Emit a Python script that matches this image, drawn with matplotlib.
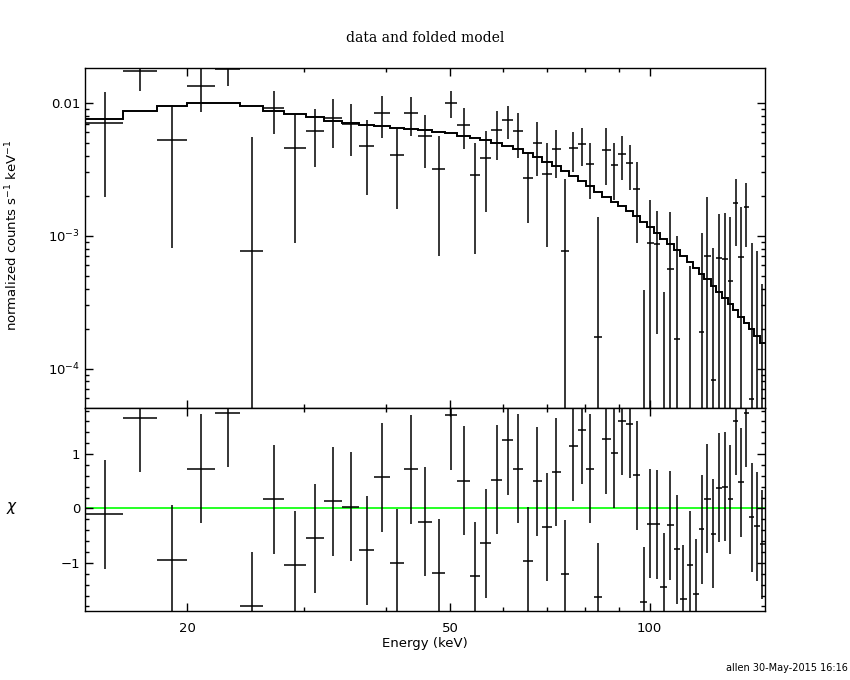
import numpy as np
import matplotlib
matplotlib.use("Agg")
import matplotlib.pyplot as plt
from matplotlib.ticker import FixedLocator, FixedFormatter, NullFormatter, MultipleLocator

# channel bin edges (keV)
edges = [14.02, 16.00, 17.99, 20.00, 22.05, 24.06, 26.07, 28.04, 30.20, 32.16,
         34.32, 36.37, 38.37, 40.46, 42.59, 44.72, 46.95, 49.01, 51.23, 53.47,
         55.50, 57.67, 59.93, 62.18, 64.39, 66.53, 68.80, 71.09, 73.35, 75.58,
         77.82, 80.19, 82.46, 84.79, 87.30, 89.64, 92.08, 94.45, 96.78, 99.06,
         101.5, 103.8, 106.3, 108.7, 111.2, 113.7, 116.1, 118.6, 121.0, 123.6,
         126.1, 128.8, 131.2, 133.6, 136.2, 138.7, 141.4, 144.0, 146.6, 149.4]

# normalized counts s^-1 keV^-1
counts = [7.06e-3, 1.753e-2, 5.26e-3, 1.344e-2, 1.805e-2, 7.64e-4, 9.10e-3, 4.57e-3, 6.15e-3, 7.65e-3,
          6.94e-3, 4.74e-3, 8.40e-3, 4.05e-3, 8.40e-3, 5.69e-3, 3.18e-3, 1.0e-2, 6.82e-3, 2.86e-3,
          3.85e-3, 6.25e-3, 7.44e-3, 6.15e-3, 2.72e-3, 5.02e-3, 2.93e-3, 4.50e-3, 7.64e-4, 4.57e-3,
          4.91e-3, 3.46e-3, 1.72e-4, 4.44e-3, 3.42e-3, 4.12e-3, 3.52e-3, 2.24e-3, -8.6e-4, 8.77e-4,
          8.63e-4, -8.8e-4, 5.61e-4, 1.68e-4, -9.7e-4, -5.6e-4, -9.5e-4, 1.87e-4, 7.0e-4, 8.16e-5,
          6.76e-4, 6.68e-4, 4.53e-4, 1.759e-3, 6.88e-4, 1.658e-3, 5.86e-5, -1.1e-4, -3.6e-4]

count_err = [5.1e-3, 5.3e-3, 4.45e-3, 4.95e-3, 4.7e-3, 4.80e-3, 3.28e-3, 3.69e-3, 2.86e-3, 3.07e-3,
             2.94e-3, 2.70e-3, 2.95e-3, 2.46e-3, 2.76e-3, 2.47e-3, 2.48e-3, 2.32e-3, 2.35e-3, 2.13e-3,
             2.33e-3, 2.50e-3, 2.10e-3, 2.30e-3, 1.48e-3, 2.21e-3, 2.11e-3, 1.79e-3, 1.92e-3, 1.53e-3,
             1.57e-3, 1.56e-3, 1.22e-3, 2.04e-3, 1.57e-3, 1.51e-3, 1.32e-3, 1.36e-3, 1.25e-3, 9.9e-4,
             6.8e-4, 1.26e-3, 9.5e-4, 8.3e-4, 1.0e-3, 1.15e-3, 9.7e-4, 8.6e-4, 1.26e-3, 7.3e-4,
             7.85e-4, 8.2e-4, 9.3e-4, 9.2e-4, 9.6e-4, 8.4e-4, 8.24e-4, 8.8e-4, 7.9e-4]

# folded model
model = [7.57e-3, 8.70e-3, 9.43e-3, 9.93e-3, 1.0e-2, 9.43e-3, 8.75e-3, 8.26e-3, 7.79e-3, 7.35e-3,
         7.02e-3, 6.86e-3, 6.66e-3, 6.51e-3, 6.43e-3, 6.29e-3, 6.10e-3, 5.94e-3, 5.69e-3, 5.50e-3,
         5.28e-3, 5.04e-3, 4.74e-3, 4.48e-3, 4.19e-3, 3.91e-3, 3.62e-3, 3.36e-3, 3.08e-3, 2.84e-3,
         2.59e-3, 2.36e-3, 2.15e-3, 1.97e-3, 1.81e-3, 1.69e-3, 1.55e-3, 1.42e-3, 1.28e-3, 1.16e-3,
         1.055e-3, 9.51e-4, 8.63e-4, 7.81e-4, 7.05e-4, 6.38e-4, 5.74e-4, 5.18e-4, 4.70e-4, 4.20e-4,
         3.77e-4, 3.39e-4, 3.04e-4, 2.74e-4, 2.45e-4, 2.20e-4, 1.97e-4, 1.76e-4, 1.57e-4]

# residuals (chi)
chi = [-0.11, 1.67, -0.94, 0.73, 1.76, -1.80, 0.165, -1.04, -0.55, 0.13,
       0.03, -0.77, 0.57, -1.01, 0.72, -0.24, -1.19, 1.71, 0.51, -1.24,
       -0.64, 0.53, 1.25, 0.73, -0.97, 0.50, -0.34, 0.67, -1.21, 1.14,
       1.45, 0.73, -1.63, 1.27, 1.01, 1.61, 1.56, 0.61, -1.71, -0.28,
       -0.29, -1.45, -0.31, -0.75, -1.67, -1.04, -1.57, -0.38, 0.18, -0.46,
       0.385, 0.40, 0.165, 1.61, 0.48, 1.76, -0.165, -0.33, -0.66]

e = np.array(edges)
lo, hi = e[:-1], e[1:]
mid = (lo + hi) / 2
xerr = [mid - lo, hi - mid]
y = np.array(counts)
ye = np.array(count_err)

fig = plt.figure(figsize=(8.5, 6.8), dpi=100)
ax1 = fig.add_axes([0.1, 0.4, 0.8, 0.5])
ax2 = fig.add_axes([0.1, 1 - 611 / 680, 0.8, 203 / 680])

lw = 1.1
# top panel: data and folded model
ax1.set_xscale("log")
ax1.set_yscale("log")
ax1.vlines(mid, np.clip(y - ye, 1e-8, None), y + ye, color="black", lw=lw)
pos = y > 0
ax1.hlines(y[pos], lo[pos], hi[pos], color="black", lw=lw)
ax1.stairs(model, edges, baseline=None, color="black", lw=1.4)
ax1.set_xlim(14.02, 149.4)
ax1.set_ylim(5.04e-5, 1.837e-2)

# bottom panel: residuals
ax2.set_xscale("log")
ax2.axhline(0, color="#00ff00", lw=1.2, zorder=1)
ax2.vlines(mid, np.array(chi) - 1, np.array(chi) + 1, color="black", lw=lw)
ax2.hlines(chi, lo, hi, color="black", lw=lw)
ax2.set_xlim(14.02, 149.4)
ax2.set_ylim(-1.884, 1.846)

for ax in (ax1, ax2):
    ax.xaxis.set_major_locator(FixedLocator([20, 50, 100]))
    ax.xaxis.set_minor_locator(FixedLocator([30, 40, 60, 70, 80, 90]))
    ax.xaxis.set_minor_formatter(NullFormatter())
    ax.tick_params(which="both", direction="in", top=True, right=True, labelsize=9.5)
    ax.tick_params(which="major", length=6, width=1)
    ax.tick_params(which="minor", length=3, width=1)
    for s in ax.spines.values():
        s.set_linewidth(1.0)

ax1.xaxis.set_major_formatter(NullFormatter())
ax1.yaxis.set_major_locator(FixedLocator([1e-4, 1e-3, 1e-2]))
ax1.yaxis.set_major_formatter(FixedFormatter([r"$10^{-4}$", r"$10^{-3}$", "0.01"]))
ax1.yaxis.set_minor_formatter(NullFormatter())

ax2.xaxis.set_major_formatter(FixedFormatter(["20", "50", "100"]))
ax2.yaxis.set_major_locator(FixedLocator([-1, 0, 1]))
ax2.yaxis.set_major_formatter(FixedFormatter(["\u22121", "0", "1"]))
ax2.yaxis.set_minor_locator(MultipleLocator(0.2))
ax2.tick_params(axis="x", pad=8)

fig.text(0.5, 1 - 38 / 680, "data and folded model", ha="center", va="center",
         fontsize=10, family="DejaVu Serif")
fig.text(12 / 850, 1 - 235 / 680, r"normalized counts s$^{-1}$ keV$^{-1}$",
         rotation=90, ha="center", va="center", fontsize=9.5)
fig.text(12 / 850, 1 - 508 / 680, r"$\chi$", ha="center", va="center", fontsize=11)
fig.text(0.5, 1 - 643 / 680, "Energy (keV)", ha="center", va="center", fontsize=9.5)
fig.text(848 / 850, 1 - 668 / 680, "allen 30-May-2015 16:16", ha="right", va="center",
         fontsize=7)

fig.savefig("out.png", dpi=100)
